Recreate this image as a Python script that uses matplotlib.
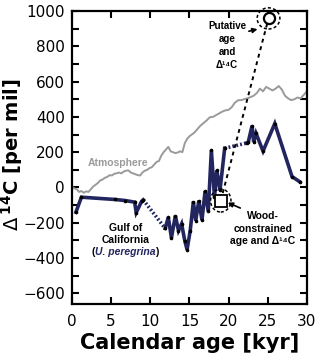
import matplotlib
matplotlib.use('Agg')
import matplotlib.pyplot as plt
from matplotlib.patches import Ellipse

# Atmospheric D14C (gray curve)
atm_age = [0.0, 0.3, 0.6, 0.9, 1.2, 1.5, 1.8, 2.1, 2.4, 2.7, 3.0, 3.3, 3.6, 3.9,
           4.2, 4.5, 4.8, 5.1, 5.4, 5.7, 6.0, 6.3, 6.6, 6.9, 7.2, 7.5, 7.8, 8.1,
           8.4, 8.7, 9.0, 9.3, 9.6, 9.9, 10.2, 10.5, 10.8, 11.1, 11.4, 11.7, 12.0,
           12.3, 12.6, 12.9, 13.2, 13.5, 13.8, 14.1, 14.4, 14.7, 15.0, 15.3, 15.6,
           16.0, 16.4, 16.8, 17.2, 17.6, 18.0, 18.4, 18.8, 19.2, 19.6, 20.0, 20.4,
           20.8, 21.2, 21.6, 22.0, 22.4, 22.8, 23.2, 23.6, 24.0, 24.4, 24.8, 25.2,
           25.6, 26.0, 26.4, 26.8, 27.2, 27.6, 28.0, 28.4, 28.8, 29.2, 29.6, 30.0]
atm_d14c = [5, -5, -10, -25, -20, -30, -22, -25, -10, 5, 15, 25, 40, 45,
            55, 60, 70, 68, 78, 80, 85, 80, 90, 95, 97, 85, 80, 75,
            70, 68, 85, 95, 100, 110, 115, 130, 145, 150, 180, 200, 215,
            230, 205, 200, 195, 198, 205, 200, 250, 275, 290, 300, 310,
            330, 350, 365, 380, 398, 400, 410, 420, 430, 437, 440, 455,
            480, 494, 495, 500, 505, 512, 520, 535, 560, 545, 570, 560,
            550, 560, 575, 555, 520, 505, 495, 500, 510, 505, 525, 545]

# Gulf of California, U. peregrina (navy), three solid pieces joined by dotted gaps
gulf_a_age = [0.5, 1.2, 5.5, 6.8, 8.0, 8.2, 8.9, 9.1]
gulf_a_d14c = [-140, -55, -68, -74, -83, -142, -78, -70]
gulf_b_age = [11.9, 12.3, 12.7, 13.2, 13.6, 14.0, 14.4, 14.7, 15.1, 15.5, 15.8,
              16.2, 16.6, 17.0, 17.4, 17.8, 18.2, 18.5, 18.9, 19.5]
gulf_b_d14c = [-232, -169, -285, -160, -244, -206, -301, -352, -244, -80, -188,
               -74, -185, -20, -135, 210, -55, 97, -17, 222]
gulf_c_age = [22.3, 22.5, 23.0, 23.2, 23.5, 24.4, 25.9, 28.1, 29.1]
gulf_c_d14c = [252, 255, 350, 258, 307, 206, 362, 62, 32]

# wood-constrained and putative age / D14C
wood_age, wood_d14c = 19.0, -74
put_age, put_d14c = 25.1, 958

navy = '#23255e'

fig = plt.figure(figsize=(3.2, 3.61), dpi=100)
ax = fig.add_axes([0.225, 0.158, 0.734, 0.8115])

ax.plot(atm_age, atm_d14c, color='#9a9a9a', lw=1.4, zorder=2)

for a, d in [(gulf_a_age, gulf_a_d14c), (gulf_b_age, gulf_b_d14c), (gulf_c_age, gulf_c_d14c)]:
    ax.plot(a, d, color=navy, lw=2.6, solid_joinstyle='miter', zorder=3)
    ax.plot(a, d, ls='none', marker='o', ms=1.6, color='black', zorder=4)

# dotted gaps
ax.plot([gulf_a_age[-1], gulf_b_age[0]], [gulf_a_d14c[-1], gulf_b_d14c[0]],
        color=navy, lw=2.6, ls=(0, (0.5, 0.6)), zorder=3)
ax.plot([gulf_b_age[-1], gulf_c_age[0]], [gulf_b_d14c[-1], gulf_c_d14c[0]],
        color=navy, lw=2.6, ls=(0, (0.5, 0.6)), zorder=3)

# dashed line from wood-constrained to putative point
ax.plot([wood_age, put_age], [wood_d14c, put_d14c], color='black', lw=1.4,
        ls=(0, (2, 2)), zorder=5)
ax.plot(wood_age, wood_d14c, marker='s', ms=8, mfc='white', mec='black', mew=1.3,
        ls='none', zorder=6)
ax.plot(put_age, put_d14c, marker='o', ms=8, mfc='white', mec='black', mew=1.6,
        ls='none', zorder=6, clip_on=False)
ax.add_patch(Ellipse((wood_age, wood_d14c), 2.6, 130, fill=False, ls=(0, (2, 1.5)),
                     lw=1.1, ec='black', zorder=6))
ax.add_patch(Ellipse((put_age, put_d14c), 2.9, 120, fill=False, ls=(0, (2, 1.5)),
                     lw=1.1, ec='black', zorder=6, clip_on=False))

lab = dict(family=['Liberation Sans', 'DejaVu Sans'], fontweight='bold', fontsize=7.5)
ax.text(5.9, 140, 'Atmosphere', color='#9a9a9a', ha='center', va='center', **lab)
ax.text(6.8, -262, 'Gulf of\nCalifornia', ha='center', va='center',
        linespacing=1.25, **lab)
mid = ax.text(6.8, -365, 'U. peregrina', color=navy, ha='center', va='center',
              style='italic', **lab)
ax.annotate('(', xy=(0, 0.5), xycoords=mid, ha='right', va='center', **lab)
ax.annotate(')', xy=(1, 0.5), xycoords=mid, ha='left', va='center', **lab)

ax.annotate('Putative\nage\nand\nΔ¹⁴C', xy=(23.7, 897), xytext=(19.8, 805),
            ha='center', va='center', linespacing=1.35,
            arrowprops=dict(arrowstyle='-|>', color='black', lw=1.2,
                            mutation_scale=7, shrinkA=0, shrinkB=0,
                            relpos=(1.0, 0.78)), **{**lab, 'fontsize': 7})
ax.annotate('Wood-\nconstrained\nage and Δ¹⁴C', xy=(19.9, -86), xytext=(24.4, -233),
            ha='center', va='center', linespacing=1.35,
            arrowprops=dict(arrowstyle='-|>', color='black', lw=1.2,
                            mutation_scale=7, shrinkA=0, shrinkB=0,
                            relpos=(0.25, 1.0)), **lab)

ax.set_xlim(0, 30)
ax.set_ylim(-660, 1000)
ax.set_xticks(range(0, 31, 5))
ax.set_yticks(range(-600, 1001, 200))
ax.set_yticks(range(-600, 1001, 100), minor=True)
ax.tick_params(which='both', direction='in', top=True, right=True, width=1.5,
               length=5, labelsize=11)
ax.tick_params(axis='x', pad=7)
ax.tick_params(axis='y', pad=5)
for s in ax.spines.values():
    s.set_linewidth(1.6)

ax.set_xlabel('Calendar age [kyr]', fontsize=15, fontweight='bold', labelpad=3)
ax.set_ylabel(r'$\Delta\,^{\mathbf{14}}$C [per mil]', fontsize=14, fontweight='bold')
ax.yaxis.set_label_coords(-0.2, 0.51)

fig.savefig('out.png', dpi=100)
